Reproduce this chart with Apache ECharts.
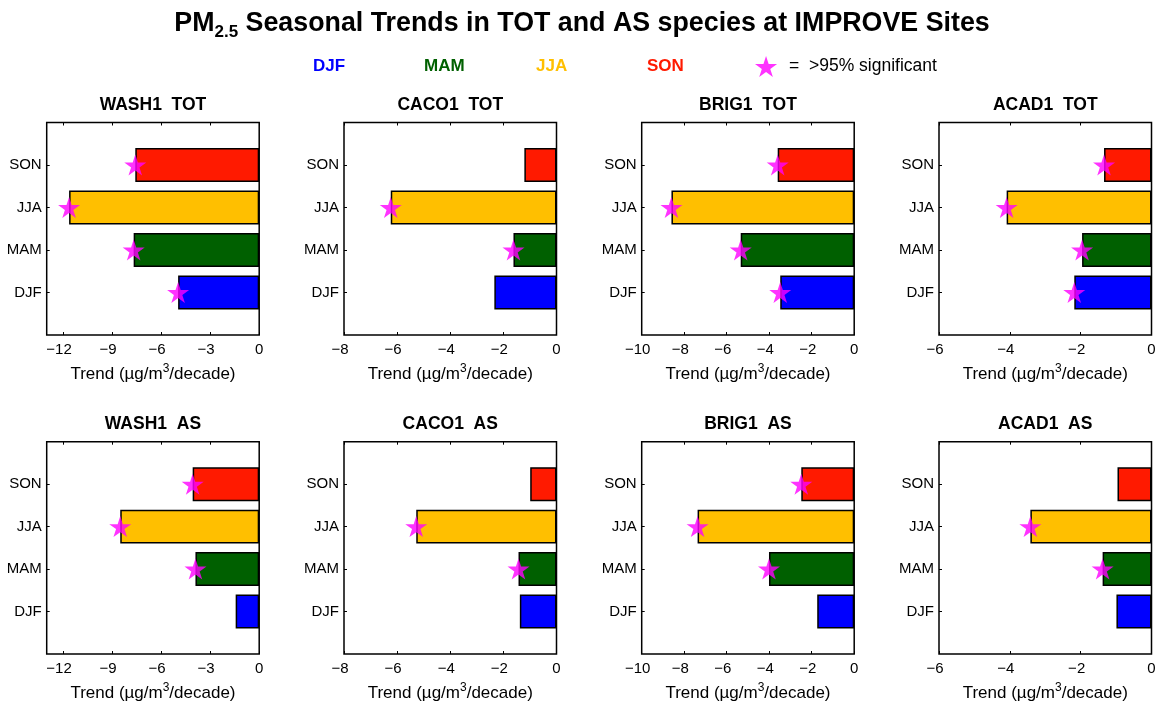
<!DOCTYPE html>
<html>
<head>
<meta charset="utf-8">
<script src="https://cdn.jsdelivr.net/npm/echarts@6/dist/echarts.min.js"></script>
<style>
  html, body { margin: 0; padding: 0; background: #fff; }
  #chart { width: 1163px; height: 705px; }
</style>
</head>
<body>
<div id="chart"></div>
<script>
// Seasons, bottom to top on each panel
const seasons = ['DJF', 'MAM', 'JJA', 'SON'];
const seasonColors = ['#0000FF', '#006000', '#FFBF00', '#FF1A00'];
const sites = ['WASH1', 'CACO1', 'BRIG1', 'ACAD1'];
const species = ['TOT', 'AS'];

// x-axis range and tick labels per site
const axisMin = [-13, -8, -10, -6];
const axisTicks = [
  [-12, -9, -6, -3, 0],
  [-8, -6, -4, -2, 0],
  [-10, -8, -6, -4, -2, 0],
  [-6, -4, -2, 0]
];

// Trends (µg/m3/decade), order DJF, MAM, JJA, SON
const WASH1_TOT = [-4.96, -7.68, -11.63, -7.58];
const CACO1_TOT = [-2.34, -1.62, -6.24, -1.21];
const BRIG1_TOT = [-3.48, -5.34, -8.60, -3.60];
const ACAD1_TOT = [-2.18, -1.96, -4.09, -1.34];
const WASH1_AS  = [-1.44, -3.90, -8.50, -4.07];
const CACO1_AS  = [-1.38, -1.43, -5.28, -0.99];
const BRIG1_AS  = [-1.74, -4.01, -7.37, -2.49];
const ACAD1_AS  = [-0.99, -1.38, -3.42, -0.96];

// >95% significance flags, same order
const WASH1_TOT_sig = [1, 1, 1, 1];
const CACO1_TOT_sig = [0, 1, 1, 0];
const BRIG1_TOT_sig = [1, 1, 1, 1];
const ACAD1_TOT_sig = [1, 1, 1, 1];
const WASH1_AS_sig  = [0, 1, 1, 1];
const CACO1_AS_sig  = [0, 1, 1, 0];
const BRIG1_AS_sig  = [0, 1, 1, 1];
const ACAD1_AS_sig  = [0, 1, 1, 0];

const panelValues = [
  [WASH1_TOT, CACO1_TOT, BRIG1_TOT, ACAD1_TOT],
  [WASH1_AS, CACO1_AS, BRIG1_AS, ACAD1_AS]
];
const panelSig = [
  [WASH1_TOT_sig, CACO1_TOT_sig, BRIG1_TOT_sig, ACAD1_TOT_sig],
  [WASH1_AS_sig, CACO1_AS_sig, BRIG1_AS_sig, ACAD1_AS_sig]
];

// Category slots: empty padding slot at each end of the axis
const yCats = ['', 'DJF', 'MAM', 'JJA', 'SON', ' '];

const FONT = 'Liberation Sans, Arial, Helvetica, sans-serif';
const STAR = 'path://M50 0L61.2 34.5L97.6 34.5L68.2 55.9L79.4 90.5L50 69.1L20.6 90.5L31.8 55.9L2.4 34.5L38.8 34.5Z';
const MAGENTA = '#FF00FF';

const colLeft = [46.7, 344, 641.7, 939];
const rowTop = [122.5, 441.7];
const boxW = 212.5, boxH = 212.5;
const panelTitleY = [105, 424];

const grids = [], xAxes = [], yAxes = [], series = [], graphics = [];

// Negative tick labels use a true minus sign, set slightly left of the tick
const tickFormatter = v => (v < 0 ? '{n|\u2212' + Math.abs(v) + '}' : String(v));
const tickRich = { n: { fontFamily: FONT, fontSize: 15, color: '#000', padding: [0, 8, 0, 0] } };

for (let r = 0; r < 2; r++) {
  for (let c = 0; c < 4; c++) {
    const p = r * 4 + c;
    grids.push({
      left: colLeft[c], top: rowTop[r], width: boxW, height: boxH,
      show: true, borderColor: '#000', borderWidth: 1.5, backgroundColor: '#fff'
    });
    const tickVals = axisTicks[c];
    xAxes.push({
      gridIndex: p, type: 'value', position: 'bottom',
      min: axisMin[c], max: 0,
      axisLine: { show: false, onZero: false },
      splitLine: { show: false },
      axisTick: { show: true, inside: true, length: 3, customValues: tickVals,
                  lineStyle: { color: '#000', width: 1 } },
      axisLabel: {
        customValues: tickVals, margin: 7,
        color: '#000', fontFamily: FONT, fontSize: 15,
        formatter: tickFormatter, rich: tickRich
      },
      name: 'Trend (\u00b5g/m{s|3}/decade)',
      nameLocation: 'middle', nameGap: 28,
      nameTextStyle: {
        color: '#000', fontFamily: FONT, fontSize: 17, lineHeight: 22,
        rich: { s: { fontSize: 12, fontFamily: FONT, color: '#000', verticalAlign: 'top', lineHeight: 12 } }
      }
    });
    xAxes.push({
      gridIndex: p, type: 'value', position: 'top',
      min: axisMin[c], max: 0,
      axisLine: { show: false, onZero: false },
      splitLine: { show: false },
      axisTick: { show: true, inside: true, length: 3, customValues: tickVals,
                  lineStyle: { color: '#000', width: 1 } },
      axisLabel: { show: false }
    });
    yAxes.push({
      gridIndex: p, type: 'category', data: yCats, boundaryGap: false,
      position: 'left',
      axisLine: { show: false, onZero: false },
      splitLine: { show: false },
      axisTick: { show: true, inside: true, length: 3,
                  interval: (i) => i > 0 && i < 5,
                  lineStyle: { color: '#000', width: 1 } },
      axisLabel: { interval: 0, margin: 5, color: '#000', fontFamily: FONT, fontSize: 15 }
    });

    const vals = panelValues[r][c];
    const sig = panelSig[r][c];
    seasons.forEach((s, k) => {
      const data = yCats.map(() => '-');
      data[k + 1] = vals[k];
      series.push({
        type: 'bar', name: s,
        xAxisIndex: p * 2, yAxisIndex: p,
        barGap: '-100%',
        barWidth: '80%',
        data: data,
        itemStyle: { color: seasonColors[k], borderColor: '#000', borderWidth: 1.5 },
        silent: true, animation: false
      });
    });
    const starData = [];
    sig.forEach((f, k) => { if (f) starData.push([vals[k], k + 1]); });
    series.push({
      type: 'scatter', name: 'sig',
      xAxisIndex: p * 2, yAxisIndex: p,
      symbol: STAR, symbolSize: [22, 21],
      itemStyle: { color: MAGENTA },
      data: starData, z: 5, silent: true, animation: false
    });

    graphics.push({
      type: 'text',
      x: colLeft[c] + boxW / 2, y: panelTitleY[r],
      style: {
        text: sites[c] + '  ' + species[r],
        fontFamily: FONT, fontSize: 17.5, fontWeight: 'bold', fill: '#000',
        align: 'center', verticalAlign: 'middle'
      }
    });
  }
}

// Main title with subscript
graphics.push({
  type: 'text', x: 582, y: 24,
  style: {
    text: '{m|PM}{s|2.5}{m| Seasonal Trends in TOT and AS species at IMPROVE Sites}',
    align: 'center', verticalAlign: 'middle',
    rich: {
      m: { fontFamily: FONT, fontSize: 26.8, fontWeight: 'bold', fill: '#000', lineHeight: 34, verticalAlign: 'middle' },
      s: { fontFamily: FONT, fontSize: 17, fontWeight: 'bold', fill: '#000', lineHeight: 17, verticalAlign: 'bottom' }
    }
  }
});

// Season legends: colored text only
const legendLeft = [303, 414, 526, 637];
const legends = seasons.map((s, k) => ({
  left: legendLeft[k], top: 51,
  selectedMode: false,
  itemWidth: 0, itemHeight: 20, itemGap: 0,
  data: [{ name: s, icon: 'none', textStyle: { color: seasonColors[k] } }],
  textStyle: { fontFamily: FONT, fontSize: 17, fontWeight: 'bold' }
}));
legends.push({
  left: 750, top: 51,
  selectedMode: false,
  itemWidth: 36, itemHeight: 21, itemGap: 0,
  data: [{ name: 'sig', icon: STAR, itemStyle: { color: MAGENTA } }],
  formatter: () => '=  >95% significant',
  textStyle: { fontFamily: FONT, fontSize: 17.5, color: '#000' }
});

const chart = echarts.init(document.getElementById('chart'), null, { renderer: 'canvas' });
chart.setOption({
  backgroundColor: '#fff',
  animation: false,
  grid: grids,
  xAxis: xAxes,
  yAxis: yAxes,
  legend: legends,
  series: series,
  graphic: graphics
});
</script>
</body>
</html>
